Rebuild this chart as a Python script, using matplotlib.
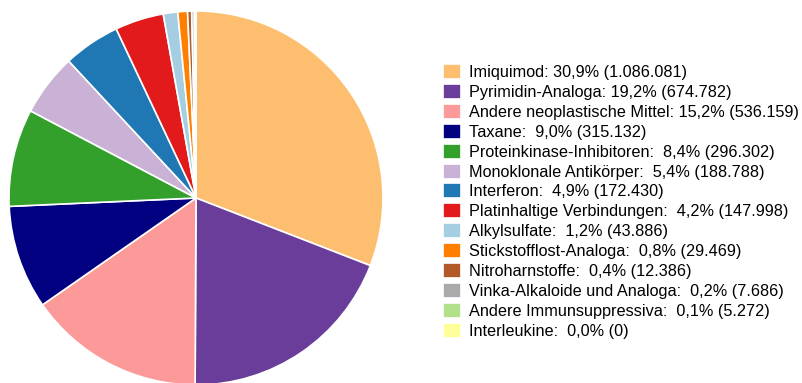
import matplotlib.pyplot as plt

plt.rcParams['font.family'] = ['Liberation Sans', 'DejaVu Sans']

names = ['Imiquimod', 'Pyrimidin-Analoga', 'Andere neoplastische Mittel', 'Taxane',
         'Proteinkinase-Inhibitoren', 'Monoklonale Antikörper', 'Interferon',
         'Platinhaltige Verbindungen', 'Alkylsulfate', 'Stickstofflost-Analoga',
         'Nitroharnstoffe', 'Vinka-Alkaloide und Analoga', 'Andere Immunsuppressiva',
         'Interleukine']
values = [1086081, 674782, 536159, 315132, 296302, 188788, 172430,
          147998, 43886, 29469, 12386, 7686, 5272, 0]
colours = ['#fdbf6f', '#6a3d9a', '#fb9a99', '#000080', '#33a02c', '#cab2d6', '#1f78b4',
           '#e31a1c', '#a6cee3', '#ff7f00', '#b15928', '#aaaaaa', '#b2df8a', '#ffff99']


def de_num(n):
    return f'{n:,}'.replace(',', '.')


total = sum(values)
labels = []
for i, (n, v) in enumerate(zip(names, values)):
    pct = f'{100 * v / total:.1f}'.replace('.', ',')
    sep = ' ' if i < 3 else '  '
    labels.append(f'{n}:{sep}{pct}% ({de_num(v)})')

W, H = 803, 383
fig = plt.figure(figsize=(W / 100, H / 100), dpi=100)
ax = fig.add_axes([0, 0, 1, 1])
ax.set_xlim(0, W)
ax.set_ylim(0, H)
ax.set_aspect('equal')
ax.axis('off')

wedges, _ = ax.pie(values, colors=colours, startangle=90, counterclock=False,
                   radius=187, center=(196, H - 198),
                   wedgeprops=dict(edgecolor='white', linewidth=1.2))
ax.set_xlim(0, W)
ax.set_ylim(0, H)

leg = ax.legend(wedges, labels, loc='upper left', bbox_to_anchor=(443 / W, 1 - 64 / H),
                bbox_transform=fig.transFigure, frameon=False, fontsize=11.7,
                handlelength=1.1, handleheight=1.05, handletextpad=0.5,
                labelspacing=0.235, borderpad=0, borderaxespad=0)

fig.savefig('out.png', dpi=100)
